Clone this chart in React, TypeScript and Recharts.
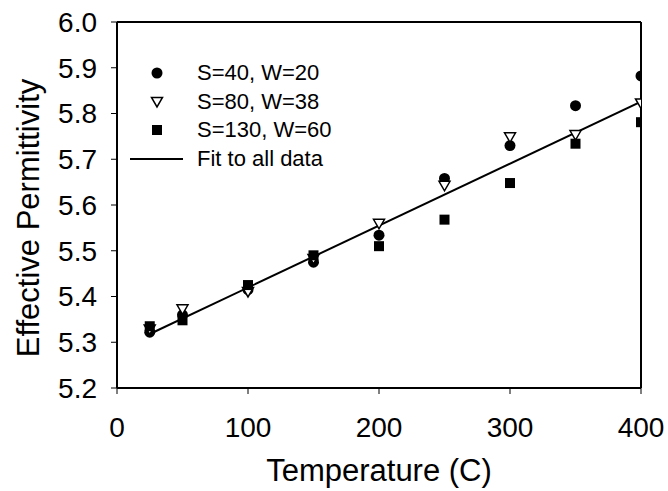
import React from 'react';
import {
  ComposedChart,
  Scatter,
  XAxis,
  YAxis,
  Legend,
  ReferenceLine,
} from 'recharts';

const temps = [25, 50, 100, 150, 200, 250, 300, 350, 400];
const s40w20 = [5.322, 5.36, 5.415, 5.475, 5.534, 5.658, 5.73, 5.817, 5.882];
const s80w38 = [5.328, 5.372, 5.41, 5.482, 5.559, 5.642, 5.748, 5.753, 5.822];
const s130w60 = [5.335, 5.348, 5.425, 5.49, 5.51, 5.568, 5.648, 5.734, 5.781];
const fitTemps = [25, 400];
const fitValues = [5.318, 5.826];

const xTicks = [0, 100, 200, 300, 400];
const yTicks = [5.2, 5.3, 5.4, 5.5, 5.6, 5.7, 5.8, 5.9, 6.0];

const seriesNames = ['S=40, W=20', 'S=80, W=38', 'S=130, W=60', 'Fit to all data'];

const FONT = '"Liberation Sans", Arial, sans-serif';

const toPoints = (xs: number[], ys: number[]) => xs.map((x, i) => ({ x, y: ys[i] }));

const circleData = toPoints(temps, s40w20);
const triangleData = toPoints(temps, s80w38);
const squareData = toPoints(temps, s130w60);
const fitData = toPoints(fitTemps, fitValues);

function CircleMark({ cx, cy }: any) {
  return <circle cx={cx} cy={cy} r={5.5} fill="#000" />;
}

function TriangleMark({ cx, cy }: any) {
  return (
    <polygon
      points={`${cx - 5.5},${cy - 4.5} ${cx + 5.5},${cy - 4.5} ${cx},${cy + 5}`}
      fill="#fff"
      stroke="#000"
      strokeWidth={1.5}
    />
  );
}

function SquareMark({ cx, cy }: any) {
  return <rect x={cx - 5} y={cy - 5} width={10} height={10} fill="#000" />;
}

function NoMark() {
  return <g />;
}

function LegendBox() {
  const marks = [
    <circle cx={32} cy={14} r={5.5} fill="#000" />,
    <polygon points="26.5,9.5 37.5,9.5 32,19" fill="#fff" stroke="#000" strokeWidth={1.5} />,
    <rect x={27} y={9} width={10} height={10} fill="#000" />,
    <line x1={5} y1={14} x2={58} y2={14} stroke="#000" strokeWidth={2} />,
  ];
  return (
    <div style={{ fontFamily: FONT, fontSize: 22, color: '#000' }}>
      {seriesNames.map((name, i) => (
        <div key={name} style={{ display: 'flex', alignItems: 'center', height: 28.5 }}>
          <svg width={60} height={28} style={{ display: 'block' }}>
            {marks[i]}
          </svg>
          <span style={{ marginLeft: 12, lineHeight: '28px' }}>{name}</span>
        </div>
      ))}
    </div>
  );
}

export default function App() {
  return (
    <div style={{ position: 'absolute', left: 0, top: 0, background: '#fff' }}>
      <ComposedChart
        width={668}
        height={491}
        margin={{ top: 22, right: 27, bottom: 0, left: 0 }}
      >
        <XAxis
          type="number"
          dataKey="x"
          domain={[0, 400]}
          ticks={xTicks}
          allowDataOverflow
          height={103}
          axisLine={{ stroke: '#000', strokeWidth: 2 }}
          tickLine={{ stroke: '#000', strokeWidth: 1 }}
          tickSize={6}
          tickMargin={23}
          tick={{ fill: '#000', fontSize: 28, fontFamily: FONT }}
          label={({ viewBox }: any) => (
            <text
              x={viewBox.x + viewBox.width / 2}
              y={470}
              textAnchor="middle"
              dominantBaseline="central"
              fill="#000"
              fontSize={31}
              fontFamily={FONT}
            >
              Temperature (C)
            </text>
          )}
        />
        <YAxis
          type="number"
          dataKey="y"
          domain={[5.2, 6.0]}
          ticks={yTicks}
          allowDataOverflow
          width={117}
          axisLine={{ stroke: '#000', strokeWidth: 2 }}
          tickLine={{ stroke: '#000', strokeWidth: 1 }}
          tickSize={6}
          tickMargin={14}
          tickFormatter={(v: number) => v.toFixed(1)}
          tick={{ fill: '#000', fontSize: 28, fontFamily: FONT }}
          label={() => (
            <text
              x={28}
              y={218}
              transform="rotate(-90, 28, 218)"
              textAnchor="middle"
              dominantBaseline="central"
              fill="#000"
              fontSize={31}
              fontFamily={FONT}
            >
              Effective Permittivity
            </text>
          )}
        />
        <ReferenceLine y={6.0} stroke="#000" strokeWidth={2} />
        <ReferenceLine x={400} stroke="#000" strokeWidth={2} />
        <Scatter
          name="Fit to all data"
          data={fitData}
          line={{ stroke: '#000', strokeWidth: 2 }}
          shape={NoMark}
          isAnimationActive={false}
        />
        <Scatter name="S=40, W=20" data={circleData} shape={CircleMark} isAnimationActive={false} />
        <Scatter name="S=80, W=38" data={triangleData} shape={TriangleMark} isAnimationActive={false} />
        <Scatter name="S=130, W=60" data={squareData} shape={SquareMark} isAnimationActive={false} />
        <Legend
          layout="vertical"
          align="center"
          verticalAlign="middle"
          content={<LegendBox />}
          wrapperStyle={{ left: 125, top: 59, width: 260 }}
        />
      </ComposedChart>
    </div>
  );
}
